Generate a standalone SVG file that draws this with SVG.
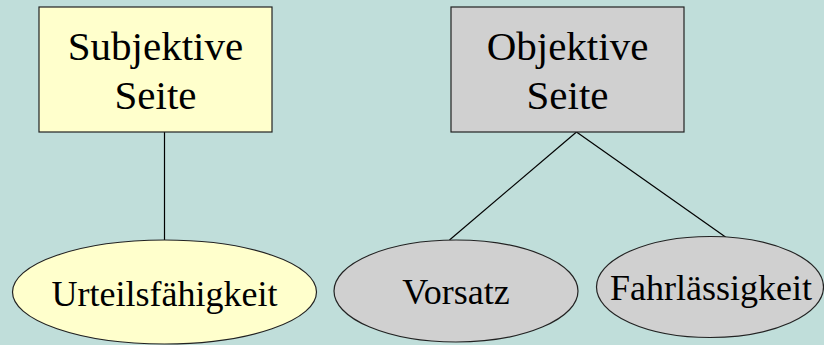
<svg xmlns="http://www.w3.org/2000/svg" width="824" height="345" viewBox="0 0 824 345">
<style>
.shape{stroke:#222;stroke-width:1.2}
.yel{fill:#FFFFCC}
.gry{fill:#D0D0D0}
text{font-family:'Liberation Serif',serif;fill:#000;text-anchor:middle}
.big{font-size:41px}
.sm{font-size:36px}
.conn line{stroke:#000;stroke-width:1.2}
</style>
<rect width="824" height="345" fill="#C0DEDA"/>
<g class="conn" id="connectors">
<line x1="164.5" y1="132" x2="164.5" y2="240"/>
<line x1="576.5" y1="132" x2="449.5" y2="240"/>
<line x1="576.5" y1="132" x2="725.5" y2="237"/>
</g>
<g id="subjektive">
<rect class="shape yel" x="39" y="7" width="233" height="125"/>
<text class="big" x="155.5" y="60" font-family="Liberation Serif, serif">Subjektive</text>
<text class="big" x="155.5" y="109" font-family="Liberation Serif, serif">Seite</text>
</g>
<g id="objektive">
<rect class="shape gry" x="451" y="7" width="233" height="125"/>
<text class="big" x="567.5" y="60" font-family="Liberation Serif, serif">Objektive</text>
<text class="big" x="567.5" y="109" font-family="Liberation Serif, serif">Seite</text>
</g>
<g id="urteil">
<ellipse class="shape yel" cx="164.5" cy="292" rx="152" ry="52"/>
<text class="sm" x="164.5" y="306" font-family="Liberation Serif, serif">Urteilsfähigkeit</text>
</g>
<g id="vorsatz">
<ellipse class="shape gry" cx="456" cy="291" rx="122" ry="51"/>
<text class="sm" x="456" y="304" font-family="Liberation Serif, serif">Vorsatz</text>
</g>
<g id="fahr">
<ellipse class="shape gry" cx="710" cy="287" rx="113.5" ry="50.5"/>
<text class="sm" x="711" y="300" font-family="Liberation Serif, serif">Fahrlässigkeit</text>
</g>
</svg>
